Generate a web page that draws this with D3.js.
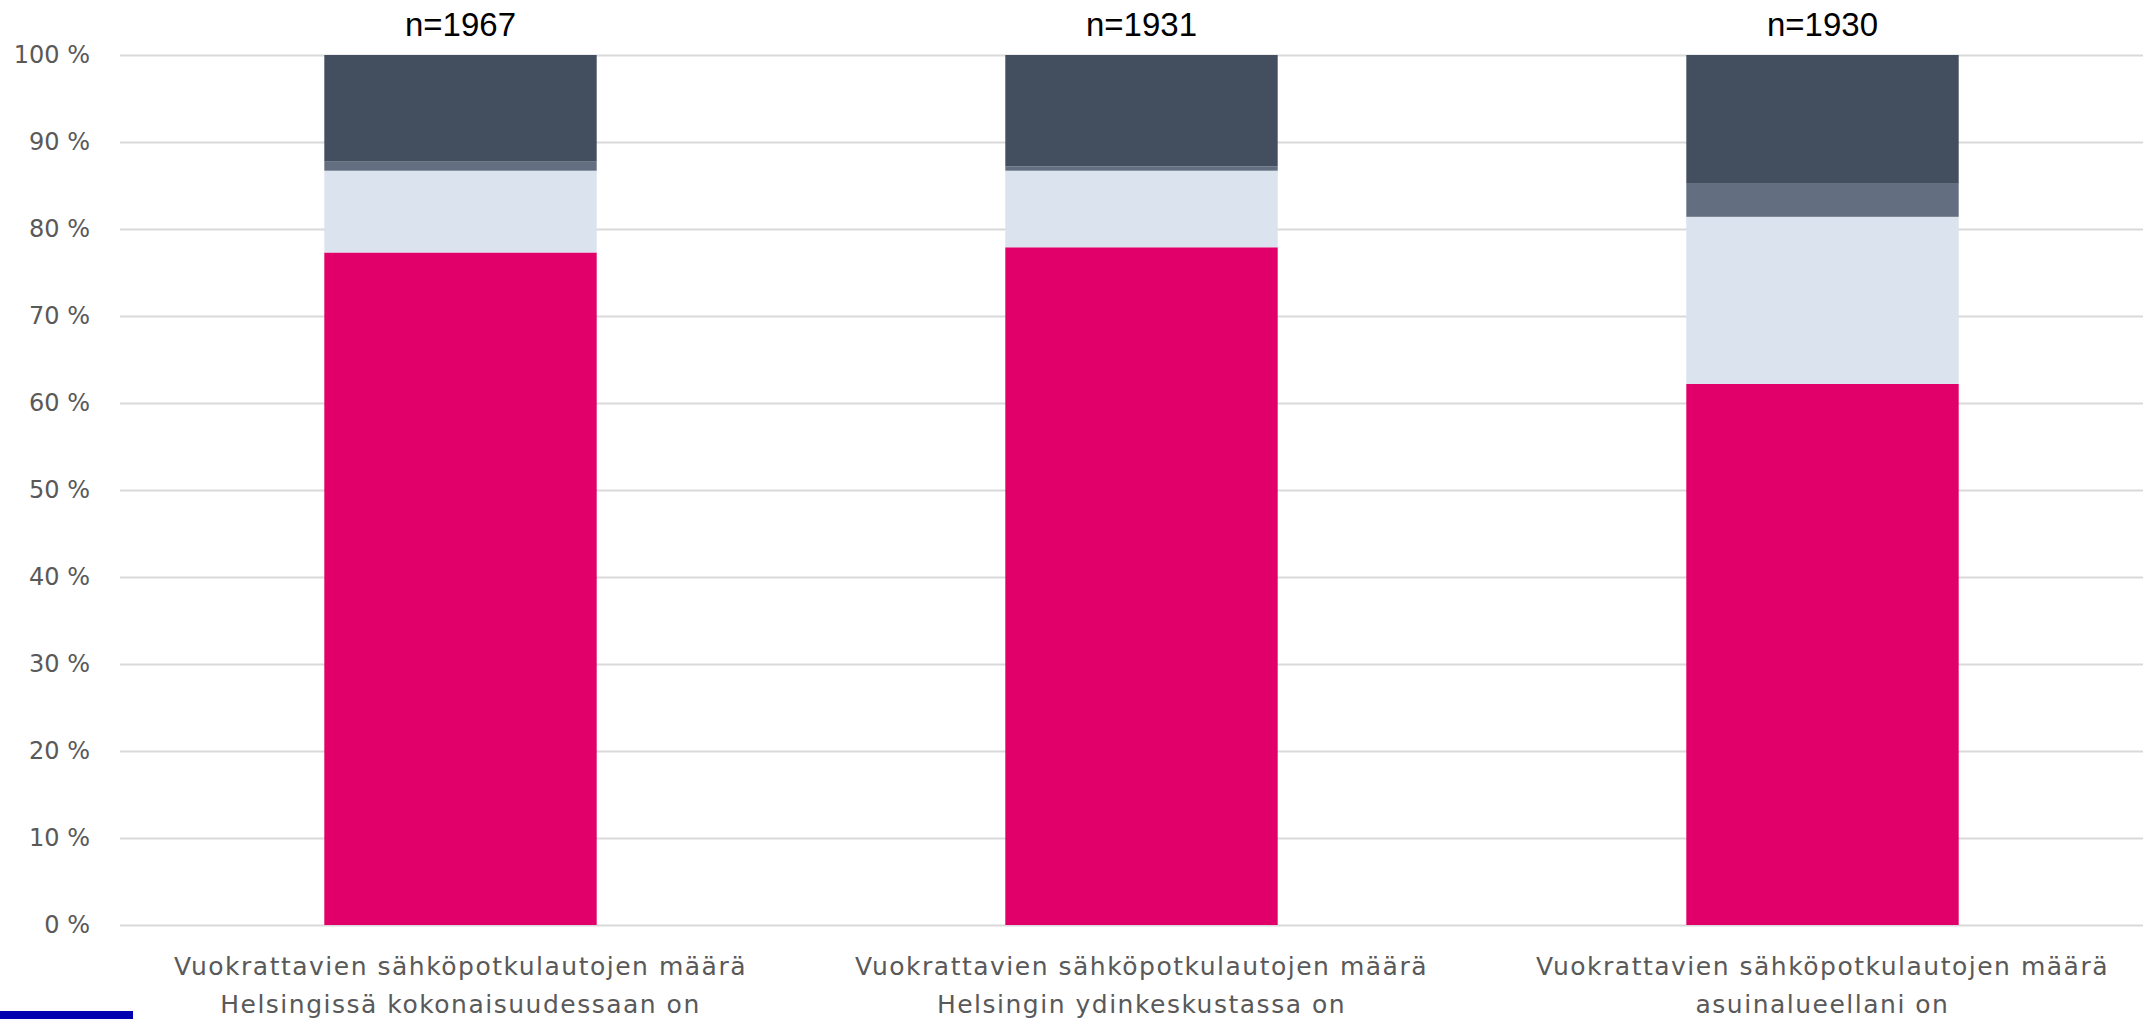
<!DOCTYPE html>
<html>
<head>
<meta charset="utf-8">
<script src="https://cdn.jsdelivr.net/npm/d3@7"></script>
<style>
  body { margin: 0; background: #fff; }
  .axis text { font-family: "DejaVu Sans", sans-serif; font-size: 24px; fill: #595959; }
  .cat-label { font-family: "DejaVu Sans", sans-serif; font-size: 25px; letter-spacing: 1.5px; fill: #595959; }
  .n-label { font-family: "Liberation Sans", Arial, sans-serif; font-size: 33px; fill: #000; }
</style>
</head>
<body>
<div id="chart"></div>
<script>
// chart data (percent of answers)
const categories = ["kokonaisuudessaan", "ydinkeskustassa", "asuinalueellani"];
const nLabels = ["n=1967", "n=1931", "n=1930"];
const labelLine1 = ["Vuokrattavien sähköpotkulautojen määrä", "Vuokrattavien sähköpotkulautojen määrä", "Vuokrattavien sähköpotkulautojen määrä"];
const labelLine2 = ["Helsingissä kokonaisuudessaan on", "Helsingin ydinkeskustassa on", "asuinalueellani on"];
const seriesKeys = ["s1", "s2", "s3", "s4"];
const s1Values = [77.3, 77.9, 62.2];
const s2Values = [9.4, 8.8, 19.2];
const s3Values = [1.1, 0.5, 3.8];
const s4Values = [12.2, 12.8, 14.8];
const yTicks = [0, 10, 20, 30, 40, 50, 60, 70, 80, 90, 100];

const colors = {s1: "#e1006a", s2: "#dae3ee", s3: "#636f80", s4: "#434f5f"};

const width = 2143, height = 1019;
const margin = {top: 55, left: 120, bottom: 94};
// plot area runs past the right edge, like the cropped original
const plotRight = 2163;

const rows = categories.map((c, i) => ({
  cat: c, s1: s1Values[i], s2: s2Values[i], s3: s3Values[i], s4: s4Values[i]
}));

const svg = d3.select("#chart").append("svg")
  .attr("width", width)
  .attr("height", height);

const x = d3.scaleBand()
  .domain(categories)
  .range([margin.left, plotRight])
  .paddingInner(0.6)
  .paddingOuter(0.3);

const y = d3.scaleLinear()
  .domain([0, 100])
  .range([height - margin.bottom, margin.top]);

// y axis + gridlines
const yAxis = svg.append("g")
  .attr("class", "axis")
  .attr("transform", `translate(${margin.left},0)`)
  .call(d3.axisLeft(y)
    .tickValues(yTicks)
    .tickSize(-(plotRight - margin.left))
    .tickPadding(30)
    .tickFormat(d => d + " %"));
yAxis.select(".domain").remove();
yAxis.selectAll(".tick line")
  .attr("stroke", "#d9d9d9")
  .attr("stroke-width", 2);

// stacked bars
const stacked = d3.stack().keys(seriesKeys)(rows);

svg.append("g")
  .selectAll("g")
  .data(stacked)
  .join("g")
  .attr("fill", d => colors[d.key])
  .selectAll("rect")
  .data(d => d)
  .join("rect")
  .attr("x", d => x(d.data.cat))
  .attr("width", x.bandwidth())
  .attr("y", d => y(d[1]))
  .attr("height", d => y(d[0]) - y(d[1]));

// n labels above bars
svg.append("g")
  .selectAll("text")
  .data(categories)
  .join("text")
  .attr("class", "n-label")
  .attr("x", d => x(d) + x.bandwidth() / 2)
  .attr("y", 36)
  .attr("text-anchor", "middle")
  .text((d, i) => nLabels[i]);

// category labels
const catG = svg.append("g")
  .selectAll("text")
  .data(categories)
  .join("text")
  .attr("class", "cat-label")
  .attr("text-anchor", "middle")
  .attr("x", d => x(d) + x.bandwidth() / 2)
  .attr("y", 975);
catG.append("tspan")
  .attr("x", d => x(d) + x.bandwidth() / 2)
  .text((d, i) => labelLine1[i]);
catG.append("tspan")
  .attr("x", d => x(d) + x.bandwidth() / 2)
  .attr("dy", 38)
  .text((d, i) => labelLine2[i]);

// blue accent bar bottom left
svg.append("rect")
  .attr("x", 0)
  .attr("y", 1011)
  .attr("width", 133)
  .attr("height", 8)
  .attr("fill", "#0000b0");
</script>
</body>
</html>
